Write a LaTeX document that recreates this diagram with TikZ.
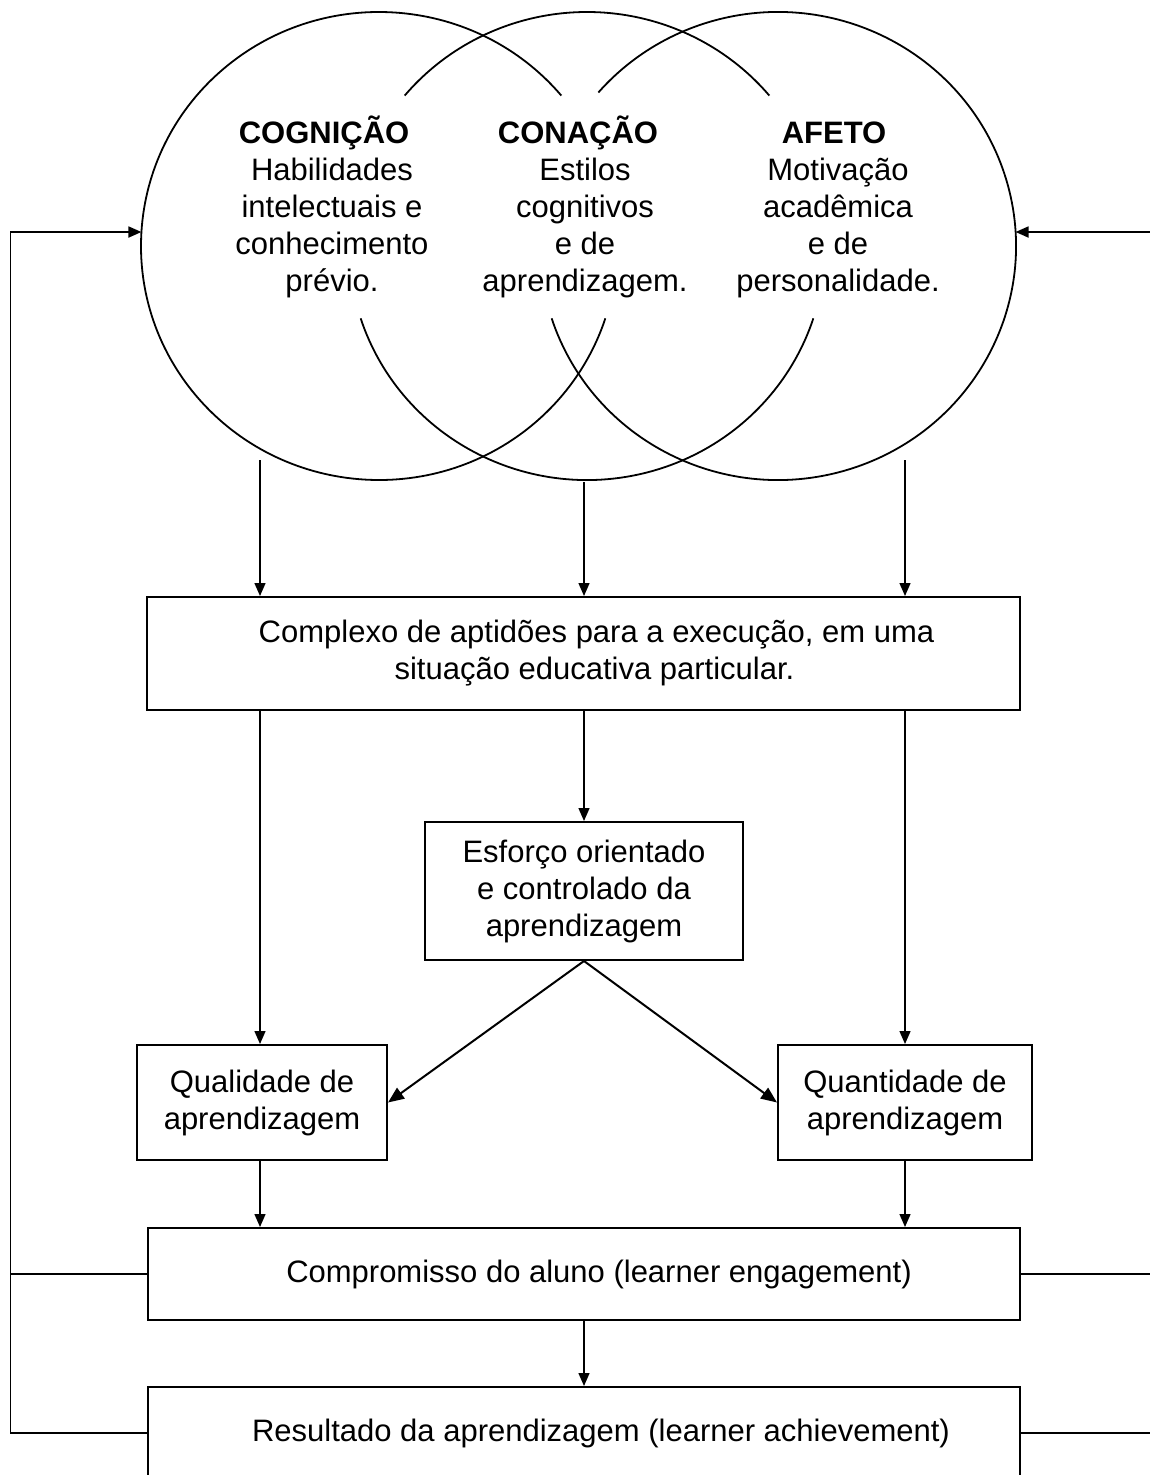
\documentclass[tikz,border=0pt]{standalone}
\usepackage{fontspec}
\setmainfont{Liberation Sans}
\usetikzlibrary{arrows.meta}
\begin{document}
\begin{tikzpicture}[x=1pt,y=1pt,
  txt/.style={align=center,inner sep=0pt,font=\fontsize{31}{37}\selectfont},
  box/.style={txt,draw,line width=2pt},
  ring/.style={line width=1.8pt},
  conn/.style={line width=1.4pt,-{Triangle[length=13pt,width=11pt]}},
  diag/.style={line width=2pt,-{Triangle[length=16pt,width=13pt]}},
  fb/.style={line width=1.3pt},
  fbthin/.style={line width=0.8pt}]
\useasboundingbox (0,0) rectangle (1150,-1475);
\fill[white] (0,0) rectangle (1150,-1475);

% circle centres
\coordinate (cL) at (379,-246);
\coordinate (cM) at (587,-246);
\coordinate (cR) at (778,-246);

% circle arcs (gaps where the text sits)
\draw[ring] ([shift={(40:238 and 234)}]cL) arc[start angle=40,end angle=342,x radius=238,y radius=234];
\draw[ring] ([shift={(40:238 and 234)}]cM) arc[start angle=40,end angle=140,x radius=238,y radius=234];
\draw[ring] ([shift={(198:238 and 234)}]cM) arc[start angle=198,end angle=342,x radius=238,y radius=234];
\draw[ring] ([shift={(-162:238 and 234)}]cR) arc[start angle=-162,end angle=139,x radius=238,y radius=234];

% circle texts
\node[txt] (tL) at (332,-207) {\textbf{COGNIÇÃO}\hspace*{16pt}\\Habilidades\\intelectuais e\\conhecimento\\prévio.};
\node[txt] (tM) at (585,-207) {\textbf{CONAÇÃO}\hspace*{14pt}\\Estilos\\cognitivos\\e de\\aprendizagem.};
\node[txt] (tR) at (838,-207) {\vphantom{Ã}\textbf{AFETO}\hspace*{8pt}\\Motivação\\acadêmica\\e de\\personalidade.};

% boxes
\node[box,minimum width=873,minimum height=113] (b1) at (583.5,-653.5)
  {\hspace*{26pt}Complexo de aptidões para a execução, em uma\\\hspace*{22pt}situação educativa particular.};
\node[box,minimum width=318,minimum height=138] (esf) at (584,-891)
  {Esforço orientado\\e controlado da\\aprendizagem};
\node[box,minimum width=250,minimum height=115] (qual) at (262,-1102.5)
  {Qualidade de\\aprendizagem};
\node[box,minimum width=254,minimum height=115] (quan) at (905,-1102.5)
  {Quantidade de\\aprendizagem};
\node[box,minimum width=872,minimum height=92] (comp) at (584,-1274)
  {\hspace*{30pt}Compromisso do aluno (learner engagement)};
\node[box,minimum width=872,minimum height=92] (res) at (584,-1433)
  {\hspace*{34pt}Resultado da aprendizagem (learner achievement)};

% start points below the circles
\coordinate (s1) at (260,-460);
\coordinate (s2) at (584,-482);
\coordinate (s3) at (905,-460);

\draw[conn] (s1) -- (s1 |- b1.north);
\draw[conn] (s2) -- (s2 |- b1.north);
\draw[conn] (s3) -- (s3 |- b1.north);

\draw[conn] (b1.south -| s1) -- (qual.north -| s1);
\draw[conn] (b1.south -| esf) -- (esf.north);
\draw[conn] (b1.south -| s3) -- (quan.north -| s3);

\draw[diag] (esf.south) -- (qual.east);
\draw[diag] (esf.south) -- (quan.west);

\draw[conn] (qual.south -| s1) -- (comp.north -| s1);
\draw[conn] (quan.south -| s3) -- (comp.north -| s3);
\draw[conn] (comp.south) -- (res.north);

% feedback lines
\coordinate (fL) at (10,-232);
\coordinate (fR) at (1152,-232);
\coordinate (tipL) at ([shift={(176.57:238 and 234)}]cL);
\coordinate (tipR) at ([shift={(3.43:238 and 234)}]cR);

\draw[fb] (comp.west) -- (comp.west -| fL);
\draw[fb] (res.west) -- (res.west -| fL);
\draw[fbthin] (res.west -| fL) -- (fL);
\draw[conn,line width=1.8pt] (fL) -- (tipL);

\draw[fb] (comp.east) -- (comp.east -| fR);
\draw[fb] (res.east) -- (res.east -| fR);
\draw[conn,line width=1.8pt] (fR) -- (tipR);
\end{tikzpicture}
\end{document}
